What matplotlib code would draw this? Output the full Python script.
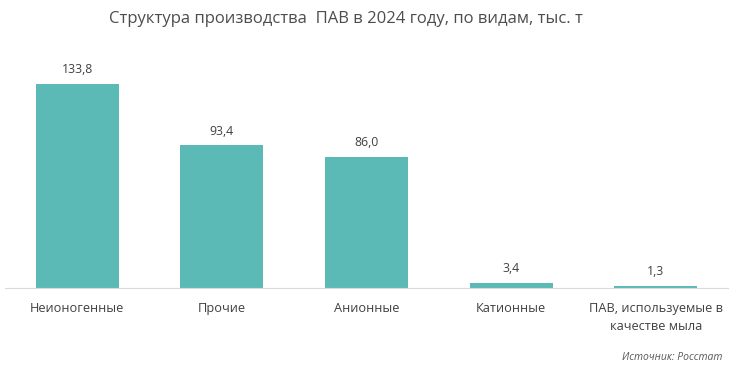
import matplotlib
matplotlib.use("Agg")
import matplotlib.pyplot as plt

categories = ["Неионогенные", "Прочие", "Анионные", "Катионные", "ПАВ, используемые в\nкачестве мыла"]
values = [133.8, 93.4, 86.0, 3.4, 1.3]
value_labels = ["133,8", "93,4", "86,0", "3,4", "1,3"]

plt.rcParams['font.family'] = ['Open Sans', 'DejaVu Sans']

fig = plt.figure(figsize=(7.43, 3.76), dpi=100)
ax = fig.add_axes([5/743, 1-288/376, 723/743, 229/376])
x = range(len(categories))
ax.bar(x, values, width=0.574, color="#5BBAB5", zorder=2)
ax.set_xlim(-0.5, 4.5)
ax.set_ylim(0, 150)
for xi, v, lab in zip(x, values, value_labels):
    ax.text(xi, v + 5, lab, ha="center", va="bottom", fontsize=8.8, color="#404040")
for s in ["top", "right", "left"]:
    ax.spines[s].set_visible(False)
ax.spines["bottom"].set_color("#D9D9D9")
ax.set_yticks([])
ax.set_xticks(list(x))
ax.set_xticklabels(categories, fontsize=9.2, color="#404040", linespacing=1.5)
ax.tick_params(axis="x", length=0, pad=10)
fig.text(346/743, 1-19/376, "Структура производства  ПАВ в 2024 году, по видам, тыс. т",
         ha="center", va="center", fontsize=12, color="#4D4D4D")
fig.text(722/743, 1-358/376, "Источник: Росстат", ha="right", va="center",
         fontsize=7.5, style="italic", color="#595959")
fig.savefig("out.png", dpi=100)
